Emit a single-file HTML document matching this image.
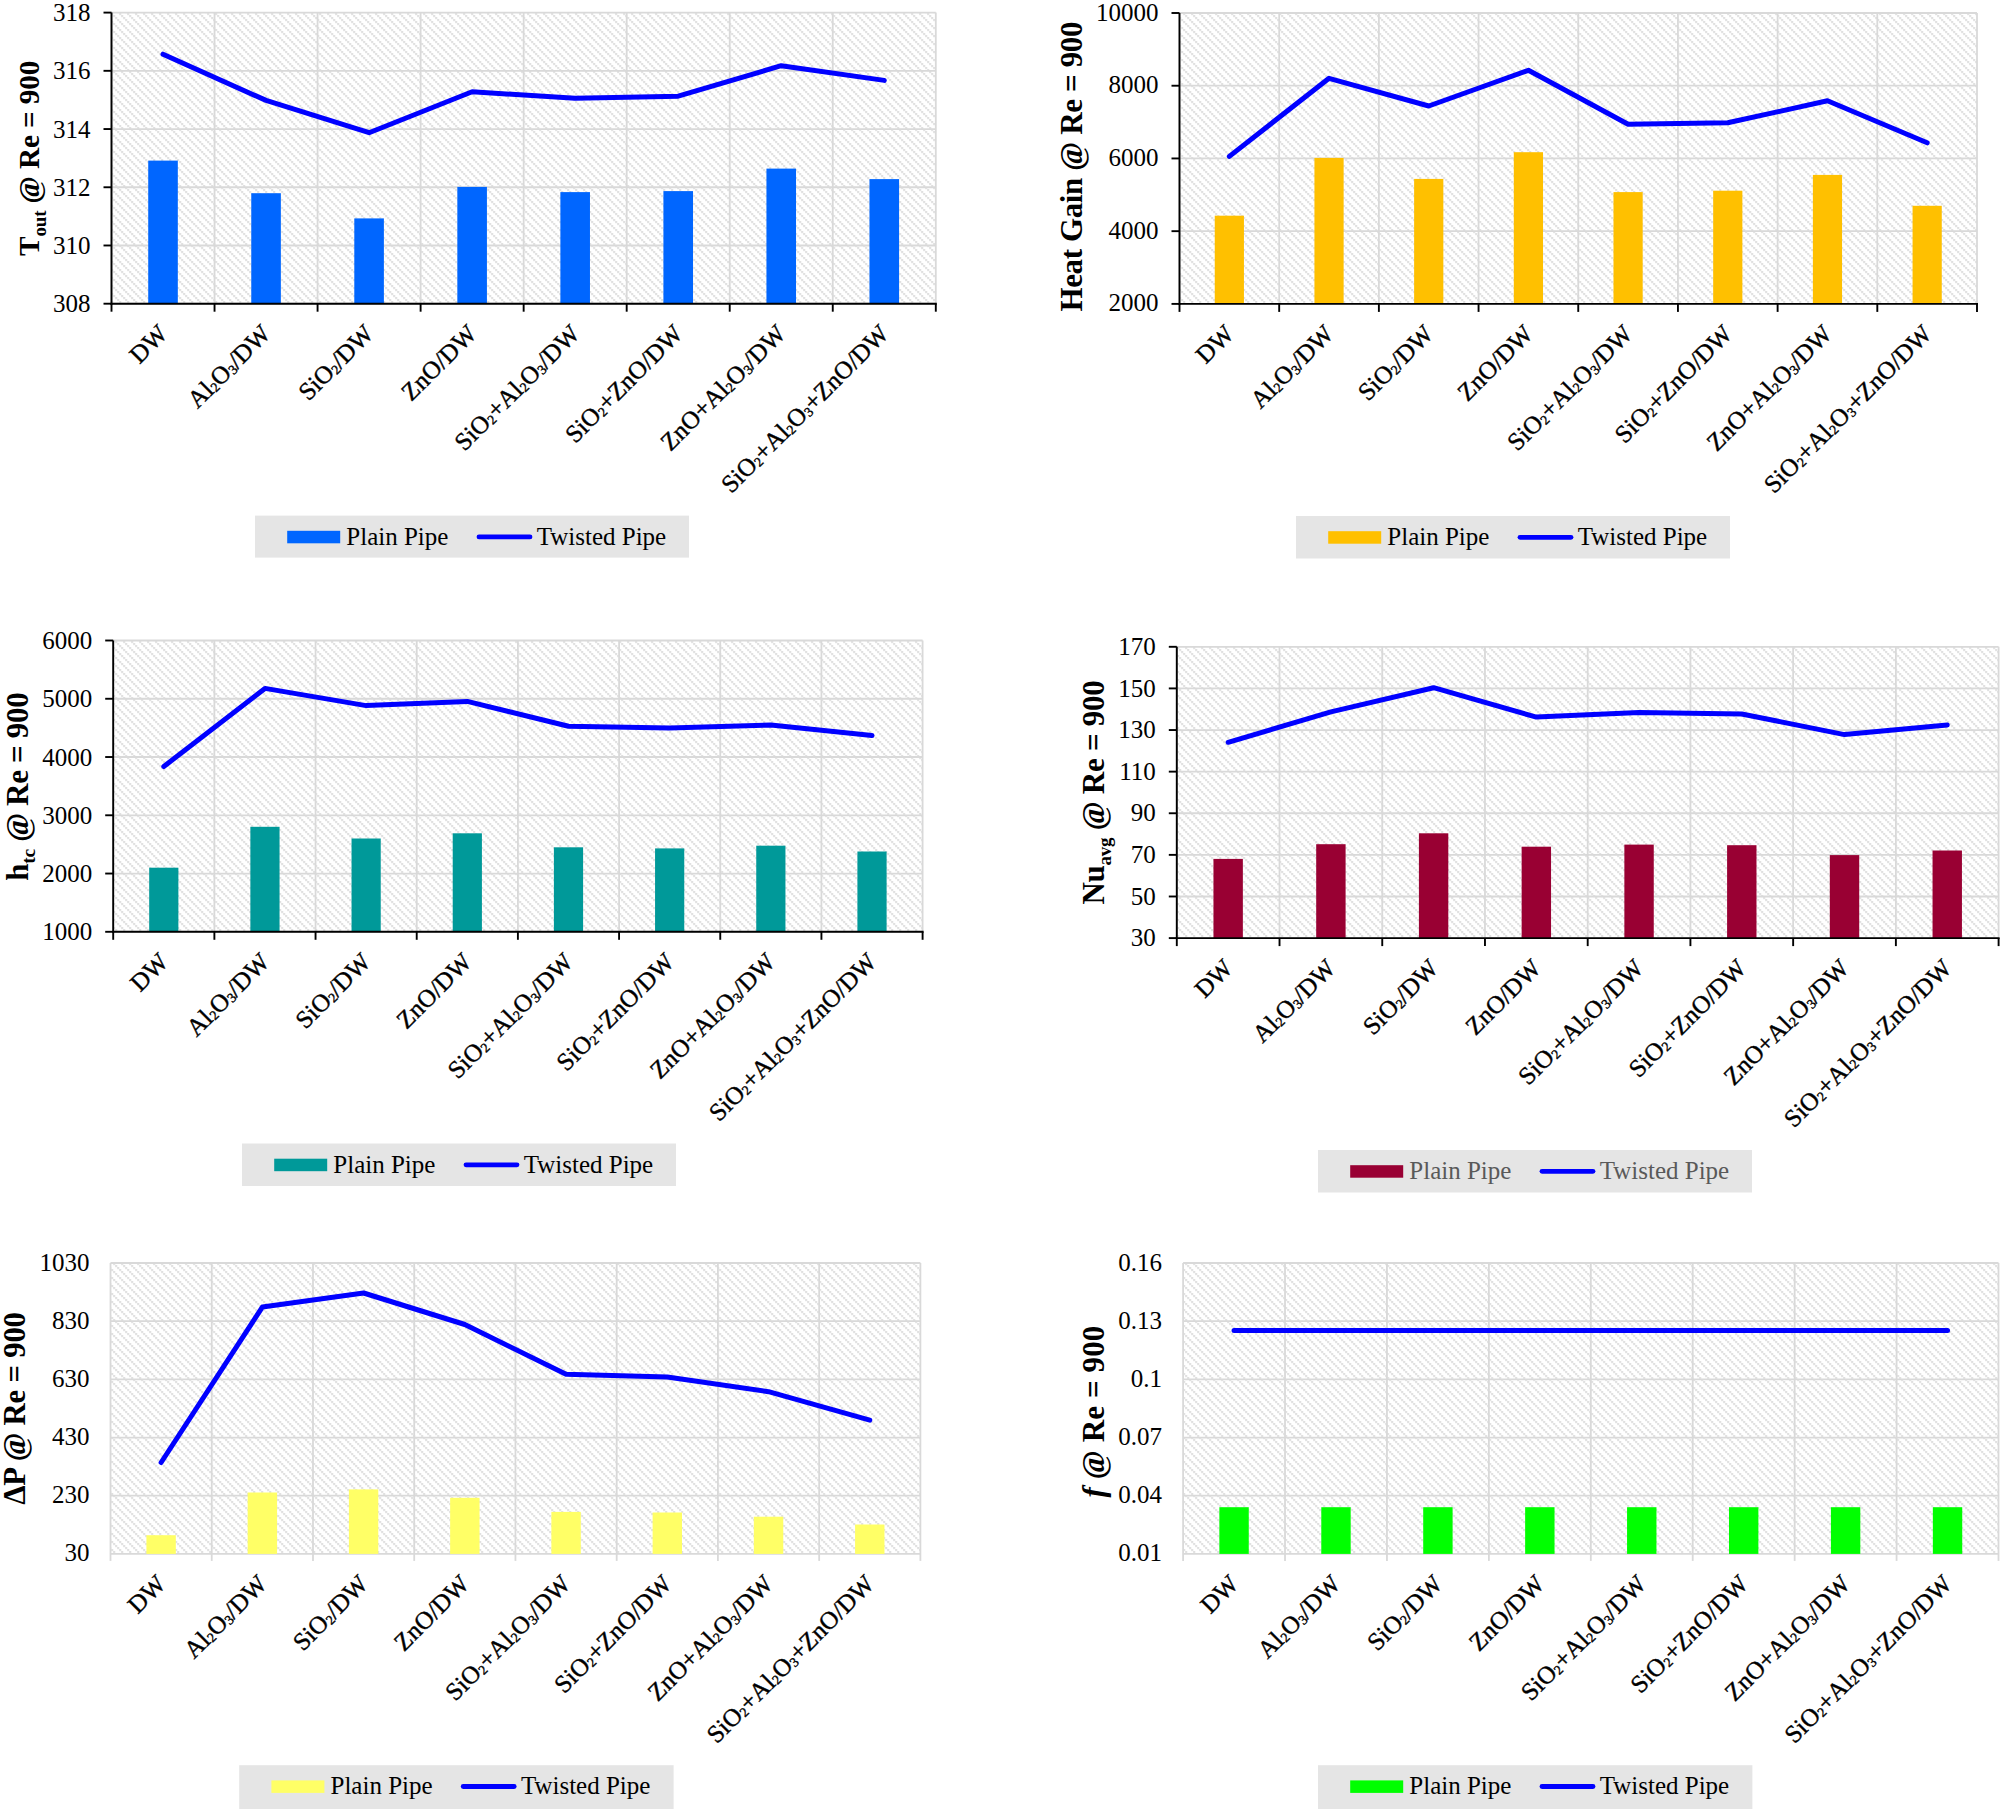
<!DOCTYPE html>
<html><head><meta charset="utf-8"><title>Charts</title>
<style>html,body{margin:0;padding:0;background:#fff;width:2000px;height:1809px;overflow:hidden}svg{display:block}</style>
</head><body>
<svg width="2000" height="1809" viewBox="0 0 2000 1809" font-family='"Liberation Serif", "Times New Roman", serif'><defs>
<pattern id="hatch" patternUnits="userSpaceOnUse" x="1.3" y="-0.8" width="8" height="8"><rect width="8" height="8" fill="#ffffff"/><g fill="#cfcfcf"><rect x="0" y="0" width="1.7" height="1.7"/><rect x="2" y="2" width="1.7" height="1.7"/><rect x="4" y="4" width="1.7" height="1.7"/><rect x="6" y="6" width="1.7" height="1.7"/></g></pattern>
</defs>
<rect x="111.5" y="12.6" width="824.3" height="291.1" fill="url(#hatch)"/>
<line x1="111.5" y1="12.6" x2="935.8" y2="12.6" stroke="#d9d9d9" stroke-width="1.8"/>
<line x1="111.5" y1="70.82" x2="935.8" y2="70.82" stroke="#d9d9d9" stroke-width="1.8"/>
<line x1="111.5" y1="129.04" x2="935.8" y2="129.04" stroke="#d9d9d9" stroke-width="1.8"/>
<line x1="111.5" y1="187.26" x2="935.8" y2="187.26" stroke="#d9d9d9" stroke-width="1.8"/>
<line x1="111.5" y1="245.48" x2="935.8" y2="245.48" stroke="#d9d9d9" stroke-width="1.8"/>
<line x1="111.5" y1="303.7" x2="935.8" y2="303.7" stroke="#d9d9d9" stroke-width="1.8"/>
<line x1="111.5" y1="12.6" x2="111.5" y2="303.7" stroke="#d9d9d9" stroke-width="1.8"/>
<line x1="214.54" y1="12.6" x2="214.54" y2="303.7" stroke="#d9d9d9" stroke-width="1.8"/>
<line x1="317.57" y1="12.6" x2="317.57" y2="303.7" stroke="#d9d9d9" stroke-width="1.8"/>
<line x1="420.61" y1="12.6" x2="420.61" y2="303.7" stroke="#d9d9d9" stroke-width="1.8"/>
<line x1="523.65" y1="12.6" x2="523.65" y2="303.7" stroke="#d9d9d9" stroke-width="1.8"/>
<line x1="626.69" y1="12.6" x2="626.69" y2="303.7" stroke="#d9d9d9" stroke-width="1.8"/>
<line x1="729.72" y1="12.6" x2="729.72" y2="303.7" stroke="#d9d9d9" stroke-width="1.8"/>
<line x1="832.76" y1="12.6" x2="832.76" y2="303.7" stroke="#d9d9d9" stroke-width="1.8"/>
<line x1="935.8" y1="12.6" x2="935.8" y2="303.7" stroke="#d9d9d9" stroke-width="1.8"/>
<rect x="148.22" y="160.6" width="29.6" height="143.1" fill="#0066FF"/>
<rect x="251.26" y="193.2" width="29.6" height="110.5" fill="#0066FF"/>
<rect x="354.29" y="218.4" width="29.6" height="85.3" fill="#0066FF"/>
<rect x="457.33" y="186.9" width="29.6" height="116.8" fill="#0066FF"/>
<rect x="560.37" y="192.1" width="29.6" height="111.6" fill="#0066FF"/>
<rect x="663.41" y="191.1" width="29.6" height="112.6" fill="#0066FF"/>
<rect x="766.44" y="168.6" width="29.6" height="135.1" fill="#0066FF"/>
<rect x="869.48" y="179.1" width="29.6" height="124.6" fill="#0066FF"/>
<line x1="111.5" y1="12.6" x2="111.5" y2="304.7" stroke="#000" stroke-width="1.9"/>
<line x1="110.5" y1="303.7" x2="936.8" y2="303.7" stroke="#000" stroke-width="1.9"/>
<line x1="103.5" y1="12.6" x2="111.5" y2="12.6" stroke="#000" stroke-width="1.9"/>
<line x1="103.5" y1="70.82" x2="111.5" y2="70.82" stroke="#000" stroke-width="1.9"/>
<line x1="103.5" y1="129.04" x2="111.5" y2="129.04" stroke="#000" stroke-width="1.9"/>
<line x1="103.5" y1="187.26" x2="111.5" y2="187.26" stroke="#000" stroke-width="1.9"/>
<line x1="103.5" y1="245.48" x2="111.5" y2="245.48" stroke="#000" stroke-width="1.9"/>
<line x1="103.5" y1="303.7" x2="111.5" y2="303.7" stroke="#000" stroke-width="1.9"/>
<line x1="111.5" y1="303.7" x2="111.5" y2="311.7" stroke="#000" stroke-width="1.9"/>
<line x1="214.54" y1="303.7" x2="214.54" y2="311.7" stroke="#000" stroke-width="1.9"/>
<line x1="317.57" y1="303.7" x2="317.57" y2="311.7" stroke="#000" stroke-width="1.9"/>
<line x1="420.61" y1="303.7" x2="420.61" y2="311.7" stroke="#000" stroke-width="1.9"/>
<line x1="523.65" y1="303.7" x2="523.65" y2="311.7" stroke="#000" stroke-width="1.9"/>
<line x1="626.69" y1="303.7" x2="626.69" y2="311.7" stroke="#000" stroke-width="1.9"/>
<line x1="729.72" y1="303.7" x2="729.72" y2="311.7" stroke="#000" stroke-width="1.9"/>
<line x1="832.76" y1="303.7" x2="832.76" y2="311.7" stroke="#000" stroke-width="1.9"/>
<line x1="935.8" y1="303.7" x2="935.8" y2="311.7" stroke="#000" stroke-width="1.9"/>
<polyline points="163.02,54.2 266.06,100.4 369.09,132.7 472.13,91.8 575.17,98.3 678.21,96.2 781.24,65.7 884.28,80.4" fill="none" stroke="#0000FF" stroke-width="5" stroke-linecap="round" stroke-linejoin="round"/>
<text x="90.5" y="21.1" font-size="25" text-anchor="end">318</text>
<text x="90.5" y="79.32" font-size="25" text-anchor="end">316</text>
<text x="90.5" y="137.54" font-size="25" text-anchor="end">314</text>
<text x="90.5" y="195.76" font-size="25" text-anchor="end">312</text>
<text x="90.5" y="253.98" font-size="25" text-anchor="end">310</text>
<text x="90.5" y="312.2" font-size="25" text-anchor="end">308</text>
<text transform="translate(163.02,329.2) rotate(-45)" x="0" y="8.44" font-size="25" text-anchor="end" stroke="#000" stroke-width="0.4"><tspan>DW</tspan></text>
<text transform="translate(266.06,329.2) rotate(-45)" x="0" y="8.44" font-size="25" text-anchor="end" stroke="#000" stroke-width="0.4"><tspan>Al</tspan><tspan font-size="13.6" dy="1.2">2</tspan><tspan dy="-1.2">O</tspan><tspan font-size="13.6" dy="1.2">3</tspan><tspan dy="-1.2">/DW</tspan></text>
<text transform="translate(369.09,329.2) rotate(-45)" x="0" y="8.44" font-size="25" text-anchor="end" stroke="#000" stroke-width="0.4"><tspan>SiO</tspan><tspan font-size="13.6" dy="1.2">2</tspan><tspan dy="-1.2">/DW</tspan></text>
<text transform="translate(472.13,329.2) rotate(-45)" x="0" y="8.44" font-size="25" text-anchor="end" stroke="#000" stroke-width="0.4"><tspan>ZnO/DW</tspan></text>
<text transform="translate(575.17,329.2) rotate(-45)" x="0" y="8.44" font-size="25" text-anchor="end" stroke="#000" stroke-width="0.4"><tspan>SiO</tspan><tspan font-size="13.6" dy="1.2">2</tspan><tspan dy="-1.2">+Al</tspan><tspan font-size="13.6" dy="1.2">2</tspan><tspan dy="-1.2">O</tspan><tspan font-size="13.6" dy="1.2">3</tspan><tspan dy="-1.2">/DW</tspan></text>
<text transform="translate(678.21,329.2) rotate(-45)" x="0" y="8.44" font-size="25" text-anchor="end" stroke="#000" stroke-width="0.4"><tspan>SiO</tspan><tspan font-size="13.6" dy="1.2">2</tspan><tspan dy="-1.2">+ZnO/DW</tspan></text>
<text transform="translate(781.24,329.2) rotate(-45)" x="0" y="8.44" font-size="25" text-anchor="end" stroke="#000" stroke-width="0.4"><tspan>ZnO+Al</tspan><tspan font-size="13.6" dy="1.2">2</tspan><tspan dy="-1.2">O</tspan><tspan font-size="13.6" dy="1.2">3</tspan><tspan dy="-1.2">/DW</tspan></text>
<text transform="translate(884.28,329.2) rotate(-45)" x="0" y="8.44" font-size="25" text-anchor="end" stroke="#000" stroke-width="0.4"><tspan>SiO</tspan><tspan font-size="13.6" dy="1.2">2</tspan><tspan dy="-1.2">+Al</tspan><tspan font-size="13.6" dy="1.2">2</tspan><tspan dy="-1.2">O</tspan><tspan font-size="13.6" dy="1.2">3</tspan><tspan dy="-1.2">+ZnO/DW</tspan></text>
<rect x="255" y="515.6" width="434" height="42" fill="#e5e5e5"/>
<rect x="287.2" y="530.8" width="53" height="12.5" fill="#0066FF"/>
<text x="346.3" y="544.8" font-size="25" fill="#000">Plain Pipe</text>
<line x1="479" y1="536.9" x2="530" y2="536.9" stroke="#0000FF" stroke-width="4.8" stroke-linecap="round"/>
<text x="536.7" y="544.8" font-size="25" fill="#000">Twisted Pipe</text>
<text transform="translate(39,158.25) rotate(-90)" x="0" y="0" font-size="29.3" font-weight="bold" text-anchor="middle" textLength="195.5" lengthAdjust="spacing"><tspan>T</tspan><tspan font-size="19" dy="6.5">out</tspan><tspan dy="-6.5"> @ Re = 900</tspan></text>
<rect x="1179.5" y="13" width="797.5" height="290.9" fill="url(#hatch)"/>
<line x1="1179.5" y1="13" x2="1977" y2="13" stroke="#d9d9d9" stroke-width="1.8"/>
<line x1="1179.5" y1="85.72" x2="1977" y2="85.72" stroke="#d9d9d9" stroke-width="1.8"/>
<line x1="1179.5" y1="158.45" x2="1977" y2="158.45" stroke="#d9d9d9" stroke-width="1.8"/>
<line x1="1179.5" y1="231.17" x2="1977" y2="231.17" stroke="#d9d9d9" stroke-width="1.8"/>
<line x1="1179.5" y1="303.9" x2="1977" y2="303.9" stroke="#d9d9d9" stroke-width="1.8"/>
<line x1="1179.5" y1="13" x2="1179.5" y2="303.9" stroke="#d9d9d9" stroke-width="1.8"/>
<line x1="1279.19" y1="13" x2="1279.19" y2="303.9" stroke="#d9d9d9" stroke-width="1.8"/>
<line x1="1378.88" y1="13" x2="1378.88" y2="303.9" stroke="#d9d9d9" stroke-width="1.8"/>
<line x1="1478.56" y1="13" x2="1478.56" y2="303.9" stroke="#d9d9d9" stroke-width="1.8"/>
<line x1="1578.25" y1="13" x2="1578.25" y2="303.9" stroke="#d9d9d9" stroke-width="1.8"/>
<line x1="1677.94" y1="13" x2="1677.94" y2="303.9" stroke="#d9d9d9" stroke-width="1.8"/>
<line x1="1777.62" y1="13" x2="1777.62" y2="303.9" stroke="#d9d9d9" stroke-width="1.8"/>
<line x1="1877.31" y1="13" x2="1877.31" y2="303.9" stroke="#d9d9d9" stroke-width="1.8"/>
<line x1="1977" y1="13" x2="1977" y2="303.9" stroke="#d9d9d9" stroke-width="1.8"/>
<rect x="1214.74" y="215.7" width="29.2" height="88.2" fill="#FFC000"/>
<rect x="1314.43" y="157.9" width="29.2" height="146" fill="#FFC000"/>
<rect x="1414.12" y="178.9" width="29.2" height="125" fill="#FFC000"/>
<rect x="1513.81" y="152.2" width="29.2" height="151.7" fill="#FFC000"/>
<rect x="1613.49" y="192.1" width="29.2" height="111.8" fill="#FFC000"/>
<rect x="1713.18" y="190.7" width="29.2" height="113.2" fill="#FFC000"/>
<rect x="1812.87" y="174.9" width="29.2" height="129" fill="#FFC000"/>
<rect x="1912.56" y="205.8" width="29.2" height="98.1" fill="#FFC000"/>
<line x1="1179.5" y1="13" x2="1179.5" y2="304.9" stroke="#000" stroke-width="1.9"/>
<line x1="1178.5" y1="303.9" x2="1978" y2="303.9" stroke="#000" stroke-width="1.9"/>
<line x1="1171.5" y1="13" x2="1179.5" y2="13" stroke="#000" stroke-width="1.9"/>
<line x1="1171.5" y1="85.72" x2="1179.5" y2="85.72" stroke="#000" stroke-width="1.9"/>
<line x1="1171.5" y1="158.45" x2="1179.5" y2="158.45" stroke="#000" stroke-width="1.9"/>
<line x1="1171.5" y1="231.17" x2="1179.5" y2="231.17" stroke="#000" stroke-width="1.9"/>
<line x1="1171.5" y1="303.9" x2="1179.5" y2="303.9" stroke="#000" stroke-width="1.9"/>
<line x1="1179.5" y1="303.9" x2="1179.5" y2="311.9" stroke="#000" stroke-width="1.9"/>
<line x1="1279.19" y1="303.9" x2="1279.19" y2="311.9" stroke="#000" stroke-width="1.9"/>
<line x1="1378.88" y1="303.9" x2="1378.88" y2="311.9" stroke="#000" stroke-width="1.9"/>
<line x1="1478.56" y1="303.9" x2="1478.56" y2="311.9" stroke="#000" stroke-width="1.9"/>
<line x1="1578.25" y1="303.9" x2="1578.25" y2="311.9" stroke="#000" stroke-width="1.9"/>
<line x1="1677.94" y1="303.9" x2="1677.94" y2="311.9" stroke="#000" stroke-width="1.9"/>
<line x1="1777.62" y1="303.9" x2="1777.62" y2="311.9" stroke="#000" stroke-width="1.9"/>
<line x1="1877.31" y1="303.9" x2="1877.31" y2="311.9" stroke="#000" stroke-width="1.9"/>
<line x1="1977" y1="303.9" x2="1977" y2="311.9" stroke="#000" stroke-width="1.9"/>
<polyline points="1229.34,156.4 1329.03,78.3 1428.72,106 1528.41,70.3 1628.09,124.3 1727.78,122.8 1827.47,100.8 1927.16,142.8" fill="none" stroke="#0000FF" stroke-width="5" stroke-linecap="round" stroke-linejoin="round"/>
<text x="1158.5" y="20.5" font-size="25" text-anchor="end">10000</text>
<text x="1158.5" y="93.22" font-size="25" text-anchor="end">8000</text>
<text x="1158.5" y="165.95" font-size="25" text-anchor="end">6000</text>
<text x="1158.5" y="238.67" font-size="25" text-anchor="end">4000</text>
<text x="1158.5" y="311.4" font-size="25" text-anchor="end">2000</text>
<text transform="translate(1229.34,329.4) rotate(-45)" x="0" y="8.44" font-size="25" text-anchor="end" stroke="#000" stroke-width="0.4"><tspan>DW</tspan></text>
<text transform="translate(1329.03,329.4) rotate(-45)" x="0" y="8.44" font-size="25" text-anchor="end" stroke="#000" stroke-width="0.4"><tspan>Al</tspan><tspan font-size="13.6" dy="1.2">2</tspan><tspan dy="-1.2">O</tspan><tspan font-size="13.6" dy="1.2">3</tspan><tspan dy="-1.2">/DW</tspan></text>
<text transform="translate(1428.72,329.4) rotate(-45)" x="0" y="8.44" font-size="25" text-anchor="end" stroke="#000" stroke-width="0.4"><tspan>SiO</tspan><tspan font-size="13.6" dy="1.2">2</tspan><tspan dy="-1.2">/DW</tspan></text>
<text transform="translate(1528.41,329.4) rotate(-45)" x="0" y="8.44" font-size="25" text-anchor="end" stroke="#000" stroke-width="0.4"><tspan>ZnO/DW</tspan></text>
<text transform="translate(1628.09,329.4) rotate(-45)" x="0" y="8.44" font-size="25" text-anchor="end" stroke="#000" stroke-width="0.4"><tspan>SiO</tspan><tspan font-size="13.6" dy="1.2">2</tspan><tspan dy="-1.2">+Al</tspan><tspan font-size="13.6" dy="1.2">2</tspan><tspan dy="-1.2">O</tspan><tspan font-size="13.6" dy="1.2">3</tspan><tspan dy="-1.2">/DW</tspan></text>
<text transform="translate(1727.78,329.4) rotate(-45)" x="0" y="8.44" font-size="25" text-anchor="end" stroke="#000" stroke-width="0.4"><tspan>SiO</tspan><tspan font-size="13.6" dy="1.2">2</tspan><tspan dy="-1.2">+ZnO/DW</tspan></text>
<text transform="translate(1827.47,329.4) rotate(-45)" x="0" y="8.44" font-size="25" text-anchor="end" stroke="#000" stroke-width="0.4"><tspan>ZnO+Al</tspan><tspan font-size="13.6" dy="1.2">2</tspan><tspan dy="-1.2">O</tspan><tspan font-size="13.6" dy="1.2">3</tspan><tspan dy="-1.2">/DW</tspan></text>
<text transform="translate(1927.16,329.4) rotate(-45)" x="0" y="8.44" font-size="25" text-anchor="end" stroke="#000" stroke-width="0.4"><tspan>SiO</tspan><tspan font-size="13.6" dy="1.2">2</tspan><tspan dy="-1.2">+Al</tspan><tspan font-size="13.6" dy="1.2">2</tspan><tspan dy="-1.2">O</tspan><tspan font-size="13.6" dy="1.2">3</tspan><tspan dy="-1.2">+ZnO/DW</tspan></text>
<rect x="1296" y="516" width="434" height="42.5" fill="#e5e5e5"/>
<rect x="1328.2" y="531.2" width="53" height="12.5" fill="#FFC000"/>
<text x="1387.3" y="545.2" font-size="25" fill="#000">Plain Pipe</text>
<line x1="1520" y1="537.3" x2="1571" y2="537.3" stroke="#0000FF" stroke-width="4.8" stroke-linecap="round"/>
<text x="1577.7" y="545.2" font-size="25" fill="#000">Twisted Pipe</text>
<text transform="translate(1081.9,166.6) rotate(-90)" x="0" y="0" font-size="31" font-weight="bold" text-anchor="middle" textLength="290" lengthAdjust="spacing"><tspan>Heat Gain @ Re = 900</tspan></text>
<rect x="113.2" y="640.5" width="809.4" height="291.3" fill="url(#hatch)"/>
<line x1="113.2" y1="640.5" x2="922.6" y2="640.5" stroke="#d9d9d9" stroke-width="1.8"/>
<line x1="113.2" y1="698.76" x2="922.6" y2="698.76" stroke="#d9d9d9" stroke-width="1.8"/>
<line x1="113.2" y1="757.02" x2="922.6" y2="757.02" stroke="#d9d9d9" stroke-width="1.8"/>
<line x1="113.2" y1="815.28" x2="922.6" y2="815.28" stroke="#d9d9d9" stroke-width="1.8"/>
<line x1="113.2" y1="873.54" x2="922.6" y2="873.54" stroke="#d9d9d9" stroke-width="1.8"/>
<line x1="113.2" y1="931.8" x2="922.6" y2="931.8" stroke="#d9d9d9" stroke-width="1.8"/>
<line x1="113.2" y1="640.5" x2="113.2" y2="931.8" stroke="#d9d9d9" stroke-width="1.8"/>
<line x1="214.38" y1="640.5" x2="214.38" y2="931.8" stroke="#d9d9d9" stroke-width="1.8"/>
<line x1="315.55" y1="640.5" x2="315.55" y2="931.8" stroke="#d9d9d9" stroke-width="1.8"/>
<line x1="416.72" y1="640.5" x2="416.72" y2="931.8" stroke="#d9d9d9" stroke-width="1.8"/>
<line x1="517.9" y1="640.5" x2="517.9" y2="931.8" stroke="#d9d9d9" stroke-width="1.8"/>
<line x1="619.08" y1="640.5" x2="619.08" y2="931.8" stroke="#d9d9d9" stroke-width="1.8"/>
<line x1="720.25" y1="640.5" x2="720.25" y2="931.8" stroke="#d9d9d9" stroke-width="1.8"/>
<line x1="821.43" y1="640.5" x2="821.43" y2="931.8" stroke="#d9d9d9" stroke-width="1.8"/>
<line x1="922.6" y1="640.5" x2="922.6" y2="931.8" stroke="#d9d9d9" stroke-width="1.8"/>
<rect x="149.19" y="867.7" width="29.2" height="64.1" fill="#009999"/>
<rect x="250.36" y="826.8" width="29.2" height="105" fill="#009999"/>
<rect x="351.54" y="838.5" width="29.2" height="93.3" fill="#009999"/>
<rect x="452.71" y="833.3" width="29.2" height="98.5" fill="#009999"/>
<rect x="553.89" y="847.3" width="29.2" height="84.5" fill="#009999"/>
<rect x="655.06" y="848.4" width="29.2" height="83.4" fill="#009999"/>
<rect x="756.24" y="845.7" width="29.2" height="86.1" fill="#009999"/>
<rect x="857.41" y="851.5" width="29.2" height="80.3" fill="#009999"/>
<line x1="113.2" y1="640.5" x2="113.2" y2="932.8" stroke="#000" stroke-width="1.9"/>
<line x1="112.2" y1="931.8" x2="923.6" y2="931.8" stroke="#000" stroke-width="1.9"/>
<line x1="105.2" y1="640.5" x2="113.2" y2="640.5" stroke="#000" stroke-width="1.9"/>
<line x1="105.2" y1="698.76" x2="113.2" y2="698.76" stroke="#000" stroke-width="1.9"/>
<line x1="105.2" y1="757.02" x2="113.2" y2="757.02" stroke="#000" stroke-width="1.9"/>
<line x1="105.2" y1="815.28" x2="113.2" y2="815.28" stroke="#000" stroke-width="1.9"/>
<line x1="105.2" y1="873.54" x2="113.2" y2="873.54" stroke="#000" stroke-width="1.9"/>
<line x1="105.2" y1="931.8" x2="113.2" y2="931.8" stroke="#000" stroke-width="1.9"/>
<line x1="113.2" y1="931.8" x2="113.2" y2="939.8" stroke="#000" stroke-width="1.9"/>
<line x1="214.38" y1="931.8" x2="214.38" y2="939.8" stroke="#000" stroke-width="1.9"/>
<line x1="315.55" y1="931.8" x2="315.55" y2="939.8" stroke="#000" stroke-width="1.9"/>
<line x1="416.72" y1="931.8" x2="416.72" y2="939.8" stroke="#000" stroke-width="1.9"/>
<line x1="517.9" y1="931.8" x2="517.9" y2="939.8" stroke="#000" stroke-width="1.9"/>
<line x1="619.08" y1="931.8" x2="619.08" y2="939.8" stroke="#000" stroke-width="1.9"/>
<line x1="720.25" y1="931.8" x2="720.25" y2="939.8" stroke="#000" stroke-width="1.9"/>
<line x1="821.43" y1="931.8" x2="821.43" y2="939.8" stroke="#000" stroke-width="1.9"/>
<line x1="922.6" y1="931.8" x2="922.6" y2="939.8" stroke="#000" stroke-width="1.9"/>
<polyline points="163.79,766.5 264.96,688.4 366.14,705.6 467.31,701.4 568.49,726.2 669.66,728.1 770.84,725.1 872.01,735.6" fill="none" stroke="#0000FF" stroke-width="5" stroke-linecap="round" stroke-linejoin="round"/>
<text x="92.2" y="649" font-size="25" text-anchor="end">6000</text>
<text x="92.2" y="707.26" font-size="25" text-anchor="end">5000</text>
<text x="92.2" y="765.52" font-size="25" text-anchor="end">4000</text>
<text x="92.2" y="823.78" font-size="25" text-anchor="end">3000</text>
<text x="92.2" y="882.04" font-size="25" text-anchor="end">2000</text>
<text x="92.2" y="940.3" font-size="25" text-anchor="end">1000</text>
<text transform="translate(163.79,957.3) rotate(-45)" x="0" y="8.44" font-size="25" text-anchor="end" stroke="#000" stroke-width="0.4"><tspan>DW</tspan></text>
<text transform="translate(264.96,957.3) rotate(-45)" x="0" y="8.44" font-size="25" text-anchor="end" stroke="#000" stroke-width="0.4"><tspan>Al</tspan><tspan font-size="13.6" dy="1.2">2</tspan><tspan dy="-1.2">O</tspan><tspan font-size="13.6" dy="1.2">3</tspan><tspan dy="-1.2">/DW</tspan></text>
<text transform="translate(366.14,957.3) rotate(-45)" x="0" y="8.44" font-size="25" text-anchor="end" stroke="#000" stroke-width="0.4"><tspan>SiO</tspan><tspan font-size="13.6" dy="1.2">2</tspan><tspan dy="-1.2">/DW</tspan></text>
<text transform="translate(467.31,957.3) rotate(-45)" x="0" y="8.44" font-size="25" text-anchor="end" stroke="#000" stroke-width="0.4"><tspan>ZnO/DW</tspan></text>
<text transform="translate(568.49,957.3) rotate(-45)" x="0" y="8.44" font-size="25" text-anchor="end" stroke="#000" stroke-width="0.4"><tspan>SiO</tspan><tspan font-size="13.6" dy="1.2">2</tspan><tspan dy="-1.2">+Al</tspan><tspan font-size="13.6" dy="1.2">2</tspan><tspan dy="-1.2">O</tspan><tspan font-size="13.6" dy="1.2">3</tspan><tspan dy="-1.2">/DW</tspan></text>
<text transform="translate(669.66,957.3) rotate(-45)" x="0" y="8.44" font-size="25" text-anchor="end" stroke="#000" stroke-width="0.4"><tspan>SiO</tspan><tspan font-size="13.6" dy="1.2">2</tspan><tspan dy="-1.2">+ZnO/DW</tspan></text>
<text transform="translate(770.84,957.3) rotate(-45)" x="0" y="8.44" font-size="25" text-anchor="end" stroke="#000" stroke-width="0.4"><tspan>ZnO+Al</tspan><tspan font-size="13.6" dy="1.2">2</tspan><tspan dy="-1.2">O</tspan><tspan font-size="13.6" dy="1.2">3</tspan><tspan dy="-1.2">/DW</tspan></text>
<text transform="translate(872.01,957.3) rotate(-45)" x="0" y="8.44" font-size="25" text-anchor="end" stroke="#000" stroke-width="0.4"><tspan>SiO</tspan><tspan font-size="13.6" dy="1.2">2</tspan><tspan dy="-1.2">+Al</tspan><tspan font-size="13.6" dy="1.2">2</tspan><tspan dy="-1.2">O</tspan><tspan font-size="13.6" dy="1.2">3</tspan><tspan dy="-1.2">+ZnO/DW</tspan></text>
<rect x="242" y="1143.5" width="434" height="42.5" fill="#e5e5e5"/>
<rect x="274.2" y="1158.7" width="53" height="12.5" fill="#009999"/>
<text x="333.3" y="1172.7" font-size="25" fill="#000">Plain Pipe</text>
<line x1="466" y1="1164.8" x2="517" y2="1164.8" stroke="#0000FF" stroke-width="4.8" stroke-linecap="round"/>
<text x="523.7" y="1172.7" font-size="25" fill="#000">Twisted Pipe</text>
<text transform="translate(27.95,786.5) rotate(-90)" x="0" y="0" font-size="31" font-weight="bold" text-anchor="middle" textLength="188.45" lengthAdjust="spacing"><tspan>h</tspan><tspan font-size="19.5" dy="7">tc</tspan><tspan dy="-7"> @ Re = 900</tspan></text>
<rect x="1176.8" y="646.8" width="821.8" height="291.3" fill="url(#hatch)"/>
<line x1="1176.8" y1="646.8" x2="1998.6" y2="646.8" stroke="#d9d9d9" stroke-width="1.8"/>
<line x1="1176.8" y1="688.41" x2="1998.6" y2="688.41" stroke="#d9d9d9" stroke-width="1.8"/>
<line x1="1176.8" y1="730.03" x2="1998.6" y2="730.03" stroke="#d9d9d9" stroke-width="1.8"/>
<line x1="1176.8" y1="771.64" x2="1998.6" y2="771.64" stroke="#d9d9d9" stroke-width="1.8"/>
<line x1="1176.8" y1="813.26" x2="1998.6" y2="813.26" stroke="#d9d9d9" stroke-width="1.8"/>
<line x1="1176.8" y1="854.87" x2="1998.6" y2="854.87" stroke="#d9d9d9" stroke-width="1.8"/>
<line x1="1176.8" y1="896.49" x2="1998.6" y2="896.49" stroke="#d9d9d9" stroke-width="1.8"/>
<line x1="1176.8" y1="938.1" x2="1998.6" y2="938.1" stroke="#d9d9d9" stroke-width="1.8"/>
<line x1="1176.8" y1="646.8" x2="1176.8" y2="938.1" stroke="#d9d9d9" stroke-width="1.8"/>
<line x1="1279.52" y1="646.8" x2="1279.52" y2="938.1" stroke="#d9d9d9" stroke-width="1.8"/>
<line x1="1382.25" y1="646.8" x2="1382.25" y2="938.1" stroke="#d9d9d9" stroke-width="1.8"/>
<line x1="1484.97" y1="646.8" x2="1484.97" y2="938.1" stroke="#d9d9d9" stroke-width="1.8"/>
<line x1="1587.7" y1="646.8" x2="1587.7" y2="938.1" stroke="#d9d9d9" stroke-width="1.8"/>
<line x1="1690.42" y1="646.8" x2="1690.42" y2="938.1" stroke="#d9d9d9" stroke-width="1.8"/>
<line x1="1793.15" y1="646.8" x2="1793.15" y2="938.1" stroke="#d9d9d9" stroke-width="1.8"/>
<line x1="1895.88" y1="646.8" x2="1895.88" y2="938.1" stroke="#d9d9d9" stroke-width="1.8"/>
<line x1="1998.6" y1="646.8" x2="1998.6" y2="938.1" stroke="#d9d9d9" stroke-width="1.8"/>
<rect x="1213.46" y="858.9" width="29.4" height="79.2" fill="#990033"/>
<rect x="1316.19" y="844.2" width="29.4" height="93.9" fill="#990033"/>
<rect x="1418.91" y="833.3" width="29.4" height="104.8" fill="#990033"/>
<rect x="1521.64" y="846.7" width="29.4" height="91.4" fill="#990033"/>
<rect x="1624.36" y="844.6" width="29.4" height="93.5" fill="#990033"/>
<rect x="1727.09" y="845.2" width="29.4" height="92.9" fill="#990033"/>
<rect x="1829.81" y="855.1" width="29.4" height="83" fill="#990033"/>
<rect x="1932.54" y="850.5" width="29.4" height="87.6" fill="#990033"/>
<line x1="1176.8" y1="646.8" x2="1176.8" y2="939.1" stroke="#000" stroke-width="1.9"/>
<line x1="1175.8" y1="938.1" x2="1999.6" y2="938.1" stroke="#000" stroke-width="1.9"/>
<line x1="1168.8" y1="646.8" x2="1176.8" y2="646.8" stroke="#000" stroke-width="1.9"/>
<line x1="1168.8" y1="688.41" x2="1176.8" y2="688.41" stroke="#000" stroke-width="1.9"/>
<line x1="1168.8" y1="730.03" x2="1176.8" y2="730.03" stroke="#000" stroke-width="1.9"/>
<line x1="1168.8" y1="771.64" x2="1176.8" y2="771.64" stroke="#000" stroke-width="1.9"/>
<line x1="1168.8" y1="813.26" x2="1176.8" y2="813.26" stroke="#000" stroke-width="1.9"/>
<line x1="1168.8" y1="854.87" x2="1176.8" y2="854.87" stroke="#000" stroke-width="1.9"/>
<line x1="1168.8" y1="896.49" x2="1176.8" y2="896.49" stroke="#000" stroke-width="1.9"/>
<line x1="1168.8" y1="938.1" x2="1176.8" y2="938.1" stroke="#000" stroke-width="1.9"/>
<line x1="1176.8" y1="938.1" x2="1176.8" y2="946.1" stroke="#000" stroke-width="1.9"/>
<line x1="1279.52" y1="938.1" x2="1279.52" y2="946.1" stroke="#000" stroke-width="1.9"/>
<line x1="1382.25" y1="938.1" x2="1382.25" y2="946.1" stroke="#000" stroke-width="1.9"/>
<line x1="1484.97" y1="938.1" x2="1484.97" y2="946.1" stroke="#000" stroke-width="1.9"/>
<line x1="1587.7" y1="938.1" x2="1587.7" y2="946.1" stroke="#000" stroke-width="1.9"/>
<line x1="1690.42" y1="938.1" x2="1690.42" y2="946.1" stroke="#000" stroke-width="1.9"/>
<line x1="1793.15" y1="938.1" x2="1793.15" y2="946.1" stroke="#000" stroke-width="1.9"/>
<line x1="1895.88" y1="938.1" x2="1895.88" y2="946.1" stroke="#000" stroke-width="1.9"/>
<line x1="1998.6" y1="938.1" x2="1998.6" y2="946.1" stroke="#000" stroke-width="1.9"/>
<polyline points="1228.16,742.3 1330.89,711.9 1433.61,687.7 1536.34,717.1 1639.06,712.5 1741.79,714 1844.51,734.6 1947.24,724.9" fill="none" stroke="#0000FF" stroke-width="5" stroke-linecap="round" stroke-linejoin="round"/>
<text x="1155.8" y="655" font-size="25" text-anchor="end">170</text>
<text x="1155.8" y="696.61" font-size="25" text-anchor="end">150</text>
<text x="1155.8" y="738.23" font-size="25" text-anchor="end">130</text>
<text x="1155.8" y="779.84" font-size="25" text-anchor="end">110</text>
<text x="1155.8" y="821.46" font-size="25" text-anchor="end">90</text>
<text x="1155.8" y="863.07" font-size="25" text-anchor="end">70</text>
<text x="1155.8" y="904.69" font-size="25" text-anchor="end">50</text>
<text x="1155.8" y="946.3" font-size="25" text-anchor="end">30</text>
<text transform="translate(1228.16,963.6) rotate(-45)" x="0" y="8.44" font-size="25" text-anchor="end" stroke="#000" stroke-width="0.4"><tspan>DW</tspan></text>
<text transform="translate(1330.89,963.6) rotate(-45)" x="0" y="8.44" font-size="25" text-anchor="end" stroke="#000" stroke-width="0.4"><tspan>Al</tspan><tspan font-size="13.6" dy="1.2">2</tspan><tspan dy="-1.2">O</tspan><tspan font-size="13.6" dy="1.2">3</tspan><tspan dy="-1.2">/DW</tspan></text>
<text transform="translate(1433.61,963.6) rotate(-45)" x="0" y="8.44" font-size="25" text-anchor="end" stroke="#000" stroke-width="0.4"><tspan>SiO</tspan><tspan font-size="13.6" dy="1.2">2</tspan><tspan dy="-1.2">/DW</tspan></text>
<text transform="translate(1536.34,963.6) rotate(-45)" x="0" y="8.44" font-size="25" text-anchor="end" stroke="#000" stroke-width="0.4"><tspan>ZnO/DW</tspan></text>
<text transform="translate(1639.06,963.6) rotate(-45)" x="0" y="8.44" font-size="25" text-anchor="end" stroke="#000" stroke-width="0.4"><tspan>SiO</tspan><tspan font-size="13.6" dy="1.2">2</tspan><tspan dy="-1.2">+Al</tspan><tspan font-size="13.6" dy="1.2">2</tspan><tspan dy="-1.2">O</tspan><tspan font-size="13.6" dy="1.2">3</tspan><tspan dy="-1.2">/DW</tspan></text>
<text transform="translate(1741.79,963.6) rotate(-45)" x="0" y="8.44" font-size="25" text-anchor="end" stroke="#000" stroke-width="0.4"><tspan>SiO</tspan><tspan font-size="13.6" dy="1.2">2</tspan><tspan dy="-1.2">+ZnO/DW</tspan></text>
<text transform="translate(1844.51,963.6) rotate(-45)" x="0" y="8.44" font-size="25" text-anchor="end" stroke="#000" stroke-width="0.4"><tspan>ZnO+Al</tspan><tspan font-size="13.6" dy="1.2">2</tspan><tspan dy="-1.2">O</tspan><tspan font-size="13.6" dy="1.2">3</tspan><tspan dy="-1.2">/DW</tspan></text>
<text transform="translate(1947.24,963.6) rotate(-45)" x="0" y="8.44" font-size="25" text-anchor="end" stroke="#000" stroke-width="0.4"><tspan>SiO</tspan><tspan font-size="13.6" dy="1.2">2</tspan><tspan dy="-1.2">+Al</tspan><tspan font-size="13.6" dy="1.2">2</tspan><tspan dy="-1.2">O</tspan><tspan font-size="13.6" dy="1.2">3</tspan><tspan dy="-1.2">+ZnO/DW</tspan></text>
<rect x="1318" y="1150" width="434" height="42.5" fill="#e5e5e5"/>
<rect x="1350.2" y="1165.2" width="53" height="12.5" fill="#990033"/>
<text x="1409.3" y="1179.2" font-size="25" fill="#595959">Plain Pipe</text>
<line x1="1542" y1="1171.3" x2="1593" y2="1171.3" stroke="#0000FF" stroke-width="4.8" stroke-linecap="round"/>
<text x="1599.7" y="1179.2" font-size="25" fill="#595959">Twisted Pipe</text>
<text transform="translate(1103.9,792.4) rotate(-90)" x="0" y="0" font-size="31" font-weight="bold" text-anchor="middle" textLength="224.25" lengthAdjust="spacing"><tspan>Nu</tspan><tspan font-size="19" dy="7.4">avg</tspan><tspan dy="-7.4"> @ Re = 900</tspan></text>
<rect x="110.5" y="1263" width="809.9" height="290.9" fill="url(#hatch)"/>
<line x1="110.5" y1="1263" x2="920.4" y2="1263" stroke="#d9d9d9" stroke-width="1.8"/>
<line x1="110.5" y1="1321.18" x2="920.4" y2="1321.18" stroke="#d9d9d9" stroke-width="1.8"/>
<line x1="110.5" y1="1379.36" x2="920.4" y2="1379.36" stroke="#d9d9d9" stroke-width="1.8"/>
<line x1="110.5" y1="1437.54" x2="920.4" y2="1437.54" stroke="#d9d9d9" stroke-width="1.8"/>
<line x1="110.5" y1="1495.72" x2="920.4" y2="1495.72" stroke="#d9d9d9" stroke-width="1.8"/>
<line x1="110.5" y1="1553.9" x2="920.4" y2="1553.9" stroke="#d9d9d9" stroke-width="1.8"/>
<line x1="110.5" y1="1263" x2="110.5" y2="1553.9" stroke="#d9d9d9" stroke-width="1.8"/>
<line x1="211.74" y1="1263" x2="211.74" y2="1553.9" stroke="#d9d9d9" stroke-width="1.8"/>
<line x1="312.98" y1="1263" x2="312.98" y2="1553.9" stroke="#d9d9d9" stroke-width="1.8"/>
<line x1="414.21" y1="1263" x2="414.21" y2="1553.9" stroke="#d9d9d9" stroke-width="1.8"/>
<line x1="515.45" y1="1263" x2="515.45" y2="1553.9" stroke="#d9d9d9" stroke-width="1.8"/>
<line x1="616.69" y1="1263" x2="616.69" y2="1553.9" stroke="#d9d9d9" stroke-width="1.8"/>
<line x1="717.92" y1="1263" x2="717.92" y2="1553.9" stroke="#d9d9d9" stroke-width="1.8"/>
<line x1="819.16" y1="1263" x2="819.16" y2="1553.9" stroke="#d9d9d9" stroke-width="1.8"/>
<line x1="920.4" y1="1263" x2="920.4" y2="1553.9" stroke="#d9d9d9" stroke-width="1.8"/>
<rect x="146.42" y="1535.2" width="29.4" height="18.7" fill="#FFFF66"/>
<rect x="247.66" y="1492.5" width="29.4" height="61.4" fill="#FFFF66"/>
<rect x="348.89" y="1489.4" width="29.4" height="64.5" fill="#FFFF66"/>
<rect x="450.13" y="1497.8" width="29.4" height="56.1" fill="#FFFF66"/>
<rect x="551.37" y="1511.9" width="29.4" height="42" fill="#FFFF66"/>
<rect x="652.61" y="1512.5" width="29.4" height="41.4" fill="#FFFF66"/>
<rect x="753.84" y="1516.7" width="29.4" height="37.2" fill="#FFFF66"/>
<rect x="855.08" y="1524.5" width="29.4" height="29.4" fill="#FFFF66"/>
<line x1="110.5" y1="1553.9" x2="110.5" y2="1560.9" stroke="#d9d9d9" stroke-width="1.8"/>
<line x1="211.74" y1="1553.9" x2="211.74" y2="1560.9" stroke="#d9d9d9" stroke-width="1.8"/>
<line x1="312.98" y1="1553.9" x2="312.98" y2="1560.9" stroke="#d9d9d9" stroke-width="1.8"/>
<line x1="414.21" y1="1553.9" x2="414.21" y2="1560.9" stroke="#d9d9d9" stroke-width="1.8"/>
<line x1="515.45" y1="1553.9" x2="515.45" y2="1560.9" stroke="#d9d9d9" stroke-width="1.8"/>
<line x1="616.69" y1="1553.9" x2="616.69" y2="1560.9" stroke="#d9d9d9" stroke-width="1.8"/>
<line x1="717.92" y1="1553.9" x2="717.92" y2="1560.9" stroke="#d9d9d9" stroke-width="1.8"/>
<line x1="819.16" y1="1553.9" x2="819.16" y2="1560.9" stroke="#d9d9d9" stroke-width="1.8"/>
<line x1="920.4" y1="1553.9" x2="920.4" y2="1560.9" stroke="#d9d9d9" stroke-width="1.8"/>
<polyline points="161.12,1462.5 262.36,1307.1 363.59,1293 464.83,1324.5 566.07,1374.3 667.31,1377 768.54,1391.7 869.78,1420.1" fill="none" stroke="#0000FF" stroke-width="5" stroke-linecap="round" stroke-linejoin="round"/>
<text x="89.5" y="1270.5" font-size="25" text-anchor="end">1030</text>
<text x="89.5" y="1328.68" font-size="25" text-anchor="end">830</text>
<text x="89.5" y="1386.86" font-size="25" text-anchor="end">630</text>
<text x="89.5" y="1445.04" font-size="25" text-anchor="end">430</text>
<text x="89.5" y="1503.22" font-size="25" text-anchor="end">230</text>
<text x="89.5" y="1561.4" font-size="25" text-anchor="end">30</text>
<text transform="translate(161.12,1579.4) rotate(-45)" x="0" y="8.44" font-size="25" text-anchor="end" stroke="#000" stroke-width="0.4"><tspan>DW</tspan></text>
<text transform="translate(262.36,1579.4) rotate(-45)" x="0" y="8.44" font-size="25" text-anchor="end" stroke="#000" stroke-width="0.4"><tspan>Al</tspan><tspan font-size="13.6" dy="1.2">2</tspan><tspan dy="-1.2">O</tspan><tspan font-size="13.6" dy="1.2">3</tspan><tspan dy="-1.2">/DW</tspan></text>
<text transform="translate(363.59,1579.4) rotate(-45)" x="0" y="8.44" font-size="25" text-anchor="end" stroke="#000" stroke-width="0.4"><tspan>SiO</tspan><tspan font-size="13.6" dy="1.2">2</tspan><tspan dy="-1.2">/DW</tspan></text>
<text transform="translate(464.83,1579.4) rotate(-45)" x="0" y="8.44" font-size="25" text-anchor="end" stroke="#000" stroke-width="0.4"><tspan>ZnO/DW</tspan></text>
<text transform="translate(566.07,1579.4) rotate(-45)" x="0" y="8.44" font-size="25" text-anchor="end" stroke="#000" stroke-width="0.4"><tspan>SiO</tspan><tspan font-size="13.6" dy="1.2">2</tspan><tspan dy="-1.2">+Al</tspan><tspan font-size="13.6" dy="1.2">2</tspan><tspan dy="-1.2">O</tspan><tspan font-size="13.6" dy="1.2">3</tspan><tspan dy="-1.2">/DW</tspan></text>
<text transform="translate(667.31,1579.4) rotate(-45)" x="0" y="8.44" font-size="25" text-anchor="end" stroke="#000" stroke-width="0.4"><tspan>SiO</tspan><tspan font-size="13.6" dy="1.2">2</tspan><tspan dy="-1.2">+ZnO/DW</tspan></text>
<text transform="translate(768.54,1579.4) rotate(-45)" x="0" y="8.44" font-size="25" text-anchor="end" stroke="#000" stroke-width="0.4"><tspan>ZnO+Al</tspan><tspan font-size="13.6" dy="1.2">2</tspan><tspan dy="-1.2">O</tspan><tspan font-size="13.6" dy="1.2">3</tspan><tspan dy="-1.2">/DW</tspan></text>
<text transform="translate(869.78,1579.4) rotate(-45)" x="0" y="8.44" font-size="25" text-anchor="end" stroke="#000" stroke-width="0.4"><tspan>SiO</tspan><tspan font-size="13.6" dy="1.2">2</tspan><tspan dy="-1.2">+Al</tspan><tspan font-size="13.6" dy="1.2">2</tspan><tspan dy="-1.2">O</tspan><tspan font-size="13.6" dy="1.2">3</tspan><tspan dy="-1.2">+ZnO/DW</tspan></text>
<rect x="239.2" y="1765.2" width="434.4" height="60" fill="#e5e5e5"/>
<rect x="271.4" y="1780.4" width="53" height="12.5" fill="#FFFF66"/>
<text x="330.5" y="1794.4" font-size="25" fill="#000">Plain Pipe</text>
<line x1="463.2" y1="1786.5" x2="514.2" y2="1786.5" stroke="#0000FF" stroke-width="4.8" stroke-linecap="round"/>
<text x="520.9" y="1794.4" font-size="25" fill="#000">Twisted Pipe</text>
<text transform="translate(25.1,1408.4) rotate(-90)" x="0" y="0" font-size="30.8" font-weight="bold" text-anchor="middle" textLength="192.75" lengthAdjust="spacing"><tspan>ΔP @ Re = 900</tspan></text>
<rect x="1183.1" y="1263" width="815.4" height="290.9" fill="url(#hatch)"/>
<line x1="1183.1" y1="1263" x2="1998.5" y2="1263" stroke="#d9d9d9" stroke-width="1.8"/>
<line x1="1183.1" y1="1321.18" x2="1998.5" y2="1321.18" stroke="#d9d9d9" stroke-width="1.8"/>
<line x1="1183.1" y1="1379.36" x2="1998.5" y2="1379.36" stroke="#d9d9d9" stroke-width="1.8"/>
<line x1="1183.1" y1="1437.54" x2="1998.5" y2="1437.54" stroke="#d9d9d9" stroke-width="1.8"/>
<line x1="1183.1" y1="1495.72" x2="1998.5" y2="1495.72" stroke="#d9d9d9" stroke-width="1.8"/>
<line x1="1183.1" y1="1553.9" x2="1998.5" y2="1553.9" stroke="#d9d9d9" stroke-width="1.8"/>
<line x1="1183.1" y1="1263" x2="1183.1" y2="1553.9" stroke="#d9d9d9" stroke-width="1.8"/>
<line x1="1285.02" y1="1263" x2="1285.02" y2="1553.9" stroke="#d9d9d9" stroke-width="1.8"/>
<line x1="1386.95" y1="1263" x2="1386.95" y2="1553.9" stroke="#d9d9d9" stroke-width="1.8"/>
<line x1="1488.88" y1="1263" x2="1488.88" y2="1553.9" stroke="#d9d9d9" stroke-width="1.8"/>
<line x1="1590.8" y1="1263" x2="1590.8" y2="1553.9" stroke="#d9d9d9" stroke-width="1.8"/>
<line x1="1692.72" y1="1263" x2="1692.72" y2="1553.9" stroke="#d9d9d9" stroke-width="1.8"/>
<line x1="1794.65" y1="1263" x2="1794.65" y2="1553.9" stroke="#d9d9d9" stroke-width="1.8"/>
<line x1="1896.58" y1="1263" x2="1896.58" y2="1553.9" stroke="#d9d9d9" stroke-width="1.8"/>
<line x1="1998.5" y1="1263" x2="1998.5" y2="1553.9" stroke="#d9d9d9" stroke-width="1.8"/>
<rect x="1219.36" y="1507.2" width="29.4" height="46.7" fill="#00FF00"/>
<rect x="1321.29" y="1507.2" width="29.4" height="46.7" fill="#00FF00"/>
<rect x="1423.21" y="1507.2" width="29.4" height="46.7" fill="#00FF00"/>
<rect x="1525.14" y="1507.2" width="29.4" height="46.7" fill="#00FF00"/>
<rect x="1627.06" y="1507.2" width="29.4" height="46.7" fill="#00FF00"/>
<rect x="1728.99" y="1507.2" width="29.4" height="46.7" fill="#00FF00"/>
<rect x="1830.91" y="1507.2" width="29.4" height="46.7" fill="#00FF00"/>
<rect x="1932.84" y="1507.2" width="29.4" height="46.7" fill="#00FF00"/>
<line x1="1183.1" y1="1553.9" x2="1183.1" y2="1560.9" stroke="#d9d9d9" stroke-width="1.8"/>
<line x1="1285.02" y1="1553.9" x2="1285.02" y2="1560.9" stroke="#d9d9d9" stroke-width="1.8"/>
<line x1="1386.95" y1="1553.9" x2="1386.95" y2="1560.9" stroke="#d9d9d9" stroke-width="1.8"/>
<line x1="1488.88" y1="1553.9" x2="1488.88" y2="1560.9" stroke="#d9d9d9" stroke-width="1.8"/>
<line x1="1590.8" y1="1553.9" x2="1590.8" y2="1560.9" stroke="#d9d9d9" stroke-width="1.8"/>
<line x1="1692.72" y1="1553.9" x2="1692.72" y2="1560.9" stroke="#d9d9d9" stroke-width="1.8"/>
<line x1="1794.65" y1="1553.9" x2="1794.65" y2="1560.9" stroke="#d9d9d9" stroke-width="1.8"/>
<line x1="1896.58" y1="1553.9" x2="1896.58" y2="1560.9" stroke="#d9d9d9" stroke-width="1.8"/>
<line x1="1998.5" y1="1553.9" x2="1998.5" y2="1560.9" stroke="#d9d9d9" stroke-width="1.8"/>
<polyline points="1234.06,1330.4 1335.99,1330.4 1437.91,1330.4 1539.84,1330.4 1641.76,1330.4 1743.69,1330.4 1845.61,1330.4 1947.54,1330.4" fill="none" stroke="#0000FF" stroke-width="5" stroke-linecap="round" stroke-linejoin="round"/>
<text x="1162.1" y="1270.5" font-size="25" text-anchor="end">0.16</text>
<text x="1162.1" y="1328.68" font-size="25" text-anchor="end">0.13</text>
<text x="1162.1" y="1386.86" font-size="25" text-anchor="end">0.1</text>
<text x="1162.1" y="1445.04" font-size="25" text-anchor="end">0.07</text>
<text x="1162.1" y="1503.22" font-size="25" text-anchor="end">0.04</text>
<text x="1162.1" y="1561.4" font-size="25" text-anchor="end">0.01</text>
<text transform="translate(1234.06,1579.4) rotate(-45)" x="0" y="8.44" font-size="25" text-anchor="end" stroke="#000" stroke-width="0.4"><tspan>DW</tspan></text>
<text transform="translate(1335.99,1579.4) rotate(-45)" x="0" y="8.44" font-size="25" text-anchor="end" stroke="#000" stroke-width="0.4"><tspan>Al</tspan><tspan font-size="13.6" dy="1.2">2</tspan><tspan dy="-1.2">O</tspan><tspan font-size="13.6" dy="1.2">3</tspan><tspan dy="-1.2">/DW</tspan></text>
<text transform="translate(1437.91,1579.4) rotate(-45)" x="0" y="8.44" font-size="25" text-anchor="end" stroke="#000" stroke-width="0.4"><tspan>SiO</tspan><tspan font-size="13.6" dy="1.2">2</tspan><tspan dy="-1.2">/DW</tspan></text>
<text transform="translate(1539.84,1579.4) rotate(-45)" x="0" y="8.44" font-size="25" text-anchor="end" stroke="#000" stroke-width="0.4"><tspan>ZnO/DW</tspan></text>
<text transform="translate(1641.76,1579.4) rotate(-45)" x="0" y="8.44" font-size="25" text-anchor="end" stroke="#000" stroke-width="0.4"><tspan>SiO</tspan><tspan font-size="13.6" dy="1.2">2</tspan><tspan dy="-1.2">+Al</tspan><tspan font-size="13.6" dy="1.2">2</tspan><tspan dy="-1.2">O</tspan><tspan font-size="13.6" dy="1.2">3</tspan><tspan dy="-1.2">/DW</tspan></text>
<text transform="translate(1743.69,1579.4) rotate(-45)" x="0" y="8.44" font-size="25" text-anchor="end" stroke="#000" stroke-width="0.4"><tspan>SiO</tspan><tspan font-size="13.6" dy="1.2">2</tspan><tspan dy="-1.2">+ZnO/DW</tspan></text>
<text transform="translate(1845.61,1579.4) rotate(-45)" x="0" y="8.44" font-size="25" text-anchor="end" stroke="#000" stroke-width="0.4"><tspan>ZnO+Al</tspan><tspan font-size="13.6" dy="1.2">2</tspan><tspan dy="-1.2">O</tspan><tspan font-size="13.6" dy="1.2">3</tspan><tspan dy="-1.2">/DW</tspan></text>
<text transform="translate(1947.54,1579.4) rotate(-45)" x="0" y="8.44" font-size="25" text-anchor="end" stroke="#000" stroke-width="0.4"><tspan>SiO</tspan><tspan font-size="13.6" dy="1.2">2</tspan><tspan dy="-1.2">+Al</tspan><tspan font-size="13.6" dy="1.2">2</tspan><tspan dy="-1.2">O</tspan><tspan font-size="13.6" dy="1.2">3</tspan><tspan dy="-1.2">+ZnO/DW</tspan></text>
<rect x="1318" y="1765.2" width="434.4" height="60" fill="#e5e5e5"/>
<rect x="1350.2" y="1780.4" width="53" height="12.5" fill="#00FF00"/>
<text x="1409.3" y="1794.4" font-size="25" fill="#000">Plain Pipe</text>
<line x1="1542" y1="1786.5" x2="1593" y2="1786.5" stroke="#0000FF" stroke-width="4.8" stroke-linecap="round"/>
<text x="1599.7" y="1794.4" font-size="25" fill="#000">Twisted Pipe</text>
<text transform="translate(1104,1411.6) rotate(-90)" x="0" y="0" font-size="31" font-weight="bold" text-anchor="middle" textLength="171.75" lengthAdjust="spacing"><tspan font-style="italic">f</tspan><tspan> @ Re = 900</tspan></text></svg>
</body></html>
